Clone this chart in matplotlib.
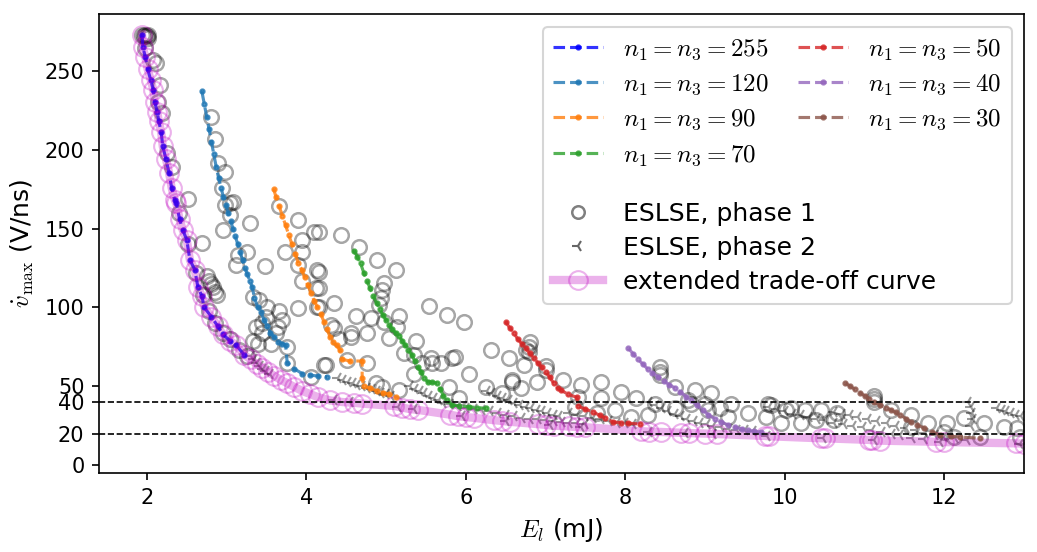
import matplotlib
matplotlib.use("Agg")
import matplotlib.pyplot as plt
from matplotlib.lines import Line2D

plt.rcParams['mathtext.fontset'] = 'cm'

# ---- data ----
x255 = [1.94, 1.95, 1.98, 2.01, 2.05, 2.08, 2.10, 2.13, 2.15, 2.18, 2.20, 2.24, 2.28, 2.31, 2.35,
        2.37, 2.41, 2.45, 2.50, 2.54, 2.60, 2.64, 2.69, 2.72, 2.81, 2.89, 2.95, 3.04, 3.12, 3.22]
y255 = [273, 265, 259, 251, 244, 238, 230, 224, 218, 211, 202, 194, 185, 176, 168,
        166, 156, 149, 143, 130, 124, 113, 107, 100, 94, 88, 83, 79, 76, 70]

x120 = [2.69, 2.72, 2.75, 2.78, 2.81, 2.84, 2.87, 2.90, 2.93, 2.96, 2.99, 3.02, 3.05, 3.08, 3.11,
        3.14, 3.17, 3.20, 3.23, 3.26, 3.29, 3.32, 3.35, 3.39, 3.43, 3.47, 3.51, 3.55, 3.60, 3.65,
        3.70, 3.74, 3.76, 3.85, 3.95, 4.05, 4.15, 4.26]
y120 = [237, 229, 221, 213, 205, 197, 189, 182, 176, 170, 165, 160, 155, 150, 145,
        140, 135, 130, 125, 121, 117, 113, 106, 100, 97, 92, 88, 84, 81, 78,
        77, 76, 65, 61, 58, 57, 56.5, 56]

x90 = [3.59, 3.62, 3.66, 3.70, 3.74, 3.78, 3.82, 3.86, 3.90, 3.94, 3.98, 4.02, 4.06, 4.10, 4.14,
       4.18, 4.22, 4.26, 4.30, 4.34, 4.38, 4.42, 4.45, 4.55, 4.70, 4.70, 4.72, 4.80, 4.88, 4.96,
       5.04, 5.12]
y90 = [175, 170, 164, 158, 152, 146, 140, 134, 128, 124, 119, 114, 109, 104, 100,
       96, 91, 86, 81, 78, 76, 73, 67, 66, 66, 55, 50, 49, 47, 46,
       45, 43]

x70 = [4.60, 4.64, 4.68, 4.72, 4.76, 4.80, 4.84, 4.88, 4.92, 4.96, 5.00, 5.04, 5.08, 5.12, 5.16,
       5.20, 5.24, 5.28, 5.32, 5.36, 5.40, 5.44, 5.48, 5.52, 5.58, 5.64, 5.68, 5.72, 5.77, 5.83,
       5.92, 6.04, 6.14, 6.25]
y70 = [136, 132, 128, 122, 117, 112, 107, 103, 99, 95, 92, 89, 86, 84, 82,
       79, 76, 73, 70, 66, 62, 59, 55, 53, 52.5, 52, 48, 44, 41, 38,
       37.5, 37, 36.5, 36]

x50 = [6.50, 6.55, 6.60, 6.65, 6.70, 6.75, 6.80, 6.85, 6.90, 6.95, 7.00, 7.05, 7.10, 7.15, 7.19,
       7.28, 7.39, 7.41, 7.50, 7.60, 7.68, 7.75, 7.85, 7.95, 8.04, 8.19]
y50 = [91, 87, 84, 80, 77, 74, 71, 68, 65, 62, 59, 56, 52, 49, 47.6,
       45, 43, 37.4, 35.5, 33.6, 31.5, 29.8, 27.3, 27, 26.6, 26]

x40 = [8.04, 8.10, 8.16, 8.22, 8.28, 8.34, 8.41, 8.48, 8.55, 8.62, 8.69, 8.76, 8.83, 8.90, 8.97,
       9.04, 9.12, 9.20, 9.29, 9.38, 9.46, 9.54, 9.62, 9.70]
y40 = [74, 70.5, 67, 64, 61, 58.5, 56, 53.5, 51, 49, 46.5, 43.5, 41, 38, 35,
       32, 29.5, 27.5, 25.4, 24, 23, 22, 21.5, 21]

x30 = [10.76, 10.82, 10.88, 10.94, 11.00, 11.06, 11.12, 11.20, 11.27, 11.33, 11.39, 11.45, 11.52,
       11.58, 11.66, 11.75, 11.85, 11.95, 12.08, 12.20, 12.45]
y30 = [52, 50, 48, 46, 44, 42, 40, 38, 36.5, 35, 33.4, 31.7, 29.5,
       27.3, 25.4, 23.5, 21, 19, 18.3, 17.8, 17]

# extended trade-off curve
x_ext = [1.94, 1.95, 1.98, 2.01, 2.05, 2.08, 2.10, 2.13, 2.15, 2.18, 2.20, 2.24, 2.28, 2.31, 2.35,
         2.37, 2.41, 2.45, 2.50, 2.54, 2.60, 2.64, 2.69, 2.72, 2.81, 2.89, 2.95, 3.04, 3.12, 3.22,
         3.30, 3.38, 3.45, 3.52, 3.60, 3.68, 3.76, 3.85, 3.95, 4.05, 4.15, 4.30, 4.45, 4.60, 4.70,
         5.10, 5.20, 5.30, 5.40, 5.80, 5.90, 6.00, 6.10, 6.35, 6.45, 6.55, 6.90, 7.00, 7.10, 7.30,
         7.40, 7.50, 8.20, 8.30, 8.45, 8.70, 8.80, 9.00, 9.15, 9.75, 9.80, 10.45, 10.50, 11.05, 11.10,
         11.20, 11.90, 12.00, 12.90, 13.00]
y_ext = [273, 265, 259, 251, 244, 238, 230, 224, 218, 211, 202, 194, 185, 176, 168,
         166, 156, 149, 143, 130, 124, 113, 107, 100, 94, 88, 83, 79, 76, 70,
         67, 64, 61.5, 59, 56.5, 54, 52, 49.5, 47, 45, 43, 41, 40, 39.5, 39,
         37.5, 36.5, 35.5, 35, 32, 31, 30.5, 30, 28.5, 28, 27.5, 26, 25.5, 25, 24.5,
         24, 24, 21.5, 21.2, 21, 20.5, 20.3, 20, 19.7, 18.5, 18.3, 17, 17, 16, 15.8,
         15.5, 14.8, 14.6, 13.8, 13.6]

# ESLSE phase 1 points
p1_x = [1.94, 1.96, 1.98, 2.00, 2.02, 1.98, 2.01, 2.08, 2.12, 2.16, 2.14, 2.19, 2.25, 2.31, 2.40,
        2.52, 2.62, 2.70, 2.78, 2.86, 2.95, 3.04, 3.15, 3.25, 2.51, 2.69, 2.75, 2.78, 2.80, 2.83,
        2.86, 2.88, 2.81, 2.85, 2.89, 2.98, 2.94, 3.08, 2.98, 3.04, 3.04, 2.95, 3.29, 3.25, 3.14,
        3.12, 3.48, 3.33, 3.41, 3.51, 3.66, 3.50, 3.70, 3.37, 3.45, 3.44, 3.62, 3.64, 3.33, 3.39,
        3.56, 3.76, 3.76, 4.22, 4.06, 3.66, 3.89, 4.10, 3.95, 3.73, 3.94, 3.89, 4.14, 3.94, 4.12,
        3.89, 4.14, 4.16, 4.44, 4.66, 4.89, 5.12, 4.16, 4.98, 4.95, 4.94, 4.91, 4.16, 4.16, 4.35,
        5.54, 5.76, 5.98, 4.62, 4.81, 4.98, 5.16, 4.31, 4.35, 4.56, 4.56, 4.76, 4.41, 5.14, 5.04,
        5.37, 5.23, 5.35, 5.45, 5.56, 5.58, 5.69, 5.83, 5.87, 6.31, 6.54, 4.25, 4.51, 4.76, 5.35,
        6.04, 5.79, 6.25, 6.58, 6.73, 6.76, 6.81, 5.91, 6.45, 4.87, 4.95, 5.16, 6.79, 6.79, 7.00,
        7.00, 6.58, 6.89, 7.22, 7.45, 7.70, 6.69, 7.94, 7.41, 7.69, 8.14, 7.37, 7.87, 8.29, 8.07,
        7.64, 8.37, 8.44, 8.44, 8.44, 8.62, 8.87, 9.08, 8.79, 9.00, 9.29, 9.54, 9.76, 9.79, 9.04,
        8.62, 9.19, 8.83, 9.33, 9.83, 10.01, 10.25, 10.45, 10.66, 9.95, 10.20, 10.39, 10.62, 11.12,
        11.12, 11.12, 11.33, 11.58, 11.79, 12.04, 12.25, 12.50, 12.75, 12.91, 11.58, 12.00, 12.45,
        12.12, 12.95, 10.08]
p1_y = [273, 272, 272.5, 272, 271, 264.6, 273, 257, 255, 241, 230, 223, 198, 189, 160,
        140, 122, 108, 98, 90, 84, 80, 73, 69, 169, 141, 120, 117, 115, 113,
        110, 108, 221, 207, 191.6, 186, 176, 167, 165, 166, 158.6, 149, 153.5, 135, 133,
        127, 126, 106.6, 104.7, 100, 98, 94, 92, 87.6, 90, 84, 84, 87.6, 79, 77,
        77, 75, 64.7, 63.5, 56, 164, 155.5, 148, 143, 135, 135, 127, 124, 117, 112,
        99.6, 100, 148, 146, 138, 130, 124, 122.5, 115.5, 111, 106, 101.5, 112, 100, 103,
        101, 95, 91, 94.5, 93, 91, 94.5, 89, 87, 84, 81, 84, 80, 87.6, 80.6,
        79, 71, 70, 65, 68, 64.7, 64.7, 68, 68.5, 73, 68, 63.5, 66.6, 64.7, 58,
        58, 49.5, 49.5, 52.7, 63.5, 73, 78, 42.5, 46, 52, 49.5, 47.6, 75, 72, 63,
        60, 54, 52.7, 54, 50.7, 52.7, 49, 46.3, 43, 42.5, 42.5, 36.8, 35, 31.7, 30.5,
        33, 39, 62, 59, 57, 49.5, 47.6, 45.7, 41, 39, 30.5, 33, 30.5, 39, 35,
        36, 36, 39, 39, 38, 35, 35, 35, 33, 27, 27, 28.5, 28.5, 44,
        42, 40, 35, 31.7, 27, 27, 29.8, 26.6, 24, 23.5, 24, 21, 17.8,
        17.8, 17.8, 36]

# ESLSE phase 2 points
p2_x = [3.30, 3.34, 3.38, 3.42, 3.46, 3.50, 3.54,
        4.40, 4.46, 4.52, 4.58, 4.64, 4.70, 4.76, 4.82, 4.88, 4.94, 5.00, 5.06,
        5.30, 5.36, 5.42, 5.48, 5.54, 5.60, 5.66, 5.72, 5.80, 5.90, 6.00, 6.10,
        6.26, 6.33, 6.40, 6.47, 6.54, 6.61, 6.68, 6.75, 6.82, 6.89, 6.96, 7.03, 7.10, 7.17,
        6.20, 6.30, 6.40, 6.50, 6.60, 6.70, 6.80, 6.90, 7.00, 7.10, 7.20, 7.30, 7.40, 7.50,
        7.30, 7.40, 7.50, 7.60, 7.70, 7.80, 7.90, 8.00, 8.10,
        8.30, 8.38, 8.46, 8.54, 8.62, 8.70, 8.78, 8.86, 8.94, 9.02, 9.10, 9.20, 9.30, 9.40, 9.50, 9.60,
        9.80, 9.90, 10.00, 10.10, 10.20, 10.30, 10.40, 10.50, 10.62, 10.74, 10.86, 10.98, 11.10,
        11.22, 11.34, 11.45, 11.60, 11.75,
        10.62, 10.72, 10.82, 10.92, 11.04, 11.16, 11.28, 11.40, 11.52, 11.64, 11.76, 11.88, 12.00,
        12.14, 12.29,
        12.30, 12.33, 12.35, 12.36, 12.34,
        12.66, 12.72, 12.78, 12.84, 12.90, 12.96,
        4.35, 4.55, 5.15, 5.35, 5.95, 6.50, 7.05, 7.45, 8.30, 8.75, 9.10, 9.78, 10.48, 11.12, 11.95,
        12.95]
p2_y = [69, 67, 65, 63, 61, 59.5, 58,
        55, 54, 53, 52, 51, 50, 49, 48, 47, 46, 45, 44,
        50, 48.5, 47, 45.5, 44, 42.5, 41, 39.5, 38.5, 37.5, 36.5, 35.5,
        47, 45.5, 44, 42.5, 41, 39.5, 38, 37, 36, 35, 34, 33, 32, 31,
        35, 34, 33, 32, 31, 30, 29.5, 29, 28.5, 28, 27.5, 27, 26.5, 26,
        33, 32, 31, 30, 29, 28, 27, 26.5, 26,
        40, 38, 36, 34, 32.5, 31, 29.5, 28, 27, 26, 25, 24, 23, 22.5, 22, 21.5,
        37, 35.5, 34, 32.5, 31.5, 30.5, 29.5, 28.5, 27, 26, 25, 24, 22.5,
        21, 20, 19, 17.5, 16.5,
        33.5, 32.5, 31.5, 30.5, 29.5, 28, 26.5, 25, 23.5, 22, 20.5, 19, 18,
        17, 16,
        40, 37, 33, 29, 25,
        36, 35, 34, 33, 32, 31,
        41, 40, 37, 35.5, 31, 28, 25.5, 24, 21.2, 20.5, 19.8, 18.4, 17, 15.8, 14.7,
        13.7]

series = [
    (x255, y255, 'b', r'$n_1 = n_3 = 255$'),
    (x120, y120, 'C0', r'$n_1 = n_3 = 120$'),
    (x90, y90, 'C1', r'$n_1 = n_3 = 90$'),
    (x70, y70, 'C2', r'$n_1 = n_3 = 70$'),
    (x50, y50, 'C3', r'$n_1 = n_3 = 50$'),
    (x40, y40, 'C4', r'$n_1 = n_3 = 40$'),
    (x30, y30, 'C5', r'$n_1 = n_3 = 30$'),
]

fig = plt.figure(figsize=(1037 / 150, 552 / 150), dpi=150)
ax = fig.add_axes([99 / 1037, 79 / 552, 925 / 1037, 459 / 552])

ax.plot(p1_x, p1_y, 'o', mfc='none', mec='k', alpha=0.35, ms=7, mew=1.2)
ax.plot(p2_x, p2_y, '3', color='k', alpha=0.4, ms=6, mew=1.0)

handles = []
for i, (xs, ys, c, lab) in enumerate(series):
    h, = ax.plot(xs, ys, '--', marker='.', color=c, alpha=0.8, ms=4, lw=1.5, label=lab)
    handles.append(h)
    if i == 0:
        ax.plot(x_ext, y_ext, '-', color='m', alpha=0.3, lw=4, marker='o', mfc='none', ms=9)

ax.axhline(20, color='k', ls='--', lw=0.8)
ax.axhline(40, color='k', ls='--', lw=0.8)

ax.set_xlim(1.4, 13.0)
ax.set_ylim(-5, 286)
ax.set_yticks([0, 20, 40, 50, 100, 150, 200, 250])
ax.set_xlabel(r'$E_l$ (mJ)', fontsize=12)
ax.set_ylabel(r'$\dot{v}_{\max}$ (V/ns)', fontsize=12)

# legend: framed block with the series, and a second frameless block below
blank = Line2D([], [], linestyle='none')
hA = handles[:4] + [blank] * 4 + handles[4:] + [blank] * 5
lA = [h.get_label() for h in handles[:4]] + [''] * 4 + [h.get_label() for h in handles[4:]] + [''] * 5
legA = ax.legend(hA, lA, ncol=2, loc='upper right', fontsize=12, columnspacing=1.2, labelspacing=0.4)
for k in list(range(4, 8)):
    legA.get_texts()[k].set_fontsize(10.2)
for k in list(range(11, 16)):
    legA.get_texts()[k].set_fontsize(2)
ax.add_artist(legA)

fig.canvas.draw()
bb = legA.get_frame().get_window_extent()
ax0, ay0 = ax.transAxes.inverted().transform((bb.x0, bb.y0))

h_p1 = Line2D([], [], ls='none', marker='o', mfc='none', mec='k', alpha=0.5, ms=6, mew=1.2)
h_p2 = Line2D([], [], ls='none', marker='3', color='k', alpha=0.6, ms=6)
h_ext = Line2D([], [], color='m', alpha=0.3, lw=4, marker='o', mfc='none', ms=9)
ax.legend([h_p1, h_p2, h_ext], ['ESLSE, phase 1', 'ESLSE, phase 2', 'extended trade-off curve'],
          loc='lower left', bbox_to_anchor=(ax0, ay0), borderaxespad=0, frameon=False, fontsize=12,
          labelspacing=0.4)

fig.savefig('out.png', dpi=150)
